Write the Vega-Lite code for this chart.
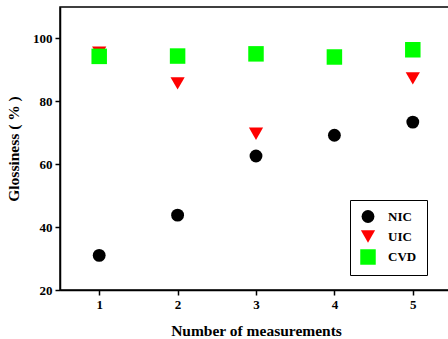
{
  "$schema": "https://vega.github.io/schema/vega-lite/v6.json",
  "autosize": "none",
  "width": 392,
  "height": 283,
  "padding": {"left": 60, "top": 7, "right": 0, "bottom": 49},
  "background": "white",
  "view": {"stroke": "black", "strokeWidth": 1.5},
  "data": {
    "values": [
      {"n": 1, "series": "NIC", "value": 31.0},
      {"n": 2, "series": "NIC", "value": 43.8},
      {"n": 3, "series": "NIC", "value": 62.6},
      {"n": 4, "series": "NIC", "value": 69.2},
      {"n": 5, "series": "NIC", "value": 73.4},
      {"n": 1, "series": "UIC", "value": 95.5},
      {"n": 2, "series": "UIC", "value": 85.7},
      {"n": 3, "series": "UIC", "value": 69.7},
      {"n": 4, "series": "UIC", "value": 94.2},
      {"n": 5, "series": "UIC", "value": 87.3},
      {"n": 1, "series": "CVD", "value": 94.3},
      {"n": 2, "series": "CVD", "value": 94.4},
      {"n": 3, "series": "CVD", "value": 95.1},
      {"n": 4, "series": "CVD", "value": 94.1},
      {"n": 5, "series": "CVD", "value": 96.4}
    ]
  },
  "mark": {"type": "point", "filled": true, "opacity": 1, "strokeWidth": 0},
  "encoding": {
    "x": {
      "field": "n", "type": "quantitative",
      "scale": {"domain": [0.5, 5.5], "nice": false, "zero": false},
      "axis": {"values": [1, 2, 3, 4, 5], "title": "Number of measurements", "titlePadding": 12}
    },
    "y": {
      "field": "value", "type": "quantitative",
      "scale": {"domain": [20, 110], "nice": false, "zero": false},
      "axis": {"values": [20, 40, 60, 80, 100], "title": "Glossiness ( % )", "titlePadding": 11}
    },
    "color": {
      "field": "series", "type": "nominal",
      "scale": {"domain": ["NIC", "UIC", "CVD"], "range": ["#000000", "#ff0000", "#00ff00"]},
      "legend": {"title": null}
    },
    "shape": {
      "field": "series", "type": "nominal",
      "scale": {"domain": ["NIC", "UIC", "CVD"], "range": ["circle", "triangle-down", "square"]},
      "legend": {"title": null}
    },
    "size": {
      "field": "series", "type": "nominal",
      "scale": {"domain": ["NIC", "UIC", "CVD"], "range": [165, 240, 200]},
      "legend": {"title": null}
    },
    "order": {"field": "series", "sort": "descending"}
  },
  "config": {
    "axis": {
      "grid": false,
      "domainColor": "black",
      "domainWidth": 1.5,
      "tickColor": "black",
      "tickSize": 5,
      "tickWidth": 1.5,
      "labelFont": "Liberation Serif",
      "labelFontWeight": "bold",
      "labelFontSize": 13,
      "labelColor": "black",
      "labelPadding": 3,
      "titleFont": "Liberation Serif",
      "titleFontWeight": "bold",
      "titleFontSize": 15.5,
      "titleColor": "black"
    },
    "legend": {
      "orient": "none",
      "legendX": 290,
      "legendY": 193,
      "strokeColor": "black",
      "fillColor": "white",
      "padding": 10,
      "rowPadding": 5,
      "symbolStrokeWidth": 0,
      "labelFont": "Liberation Serif",
      "labelFontWeight": "bold",
      "labelFontSize": 13,
      "labelColor": "black",
      "labelOffset": 12
    }
  }
}
